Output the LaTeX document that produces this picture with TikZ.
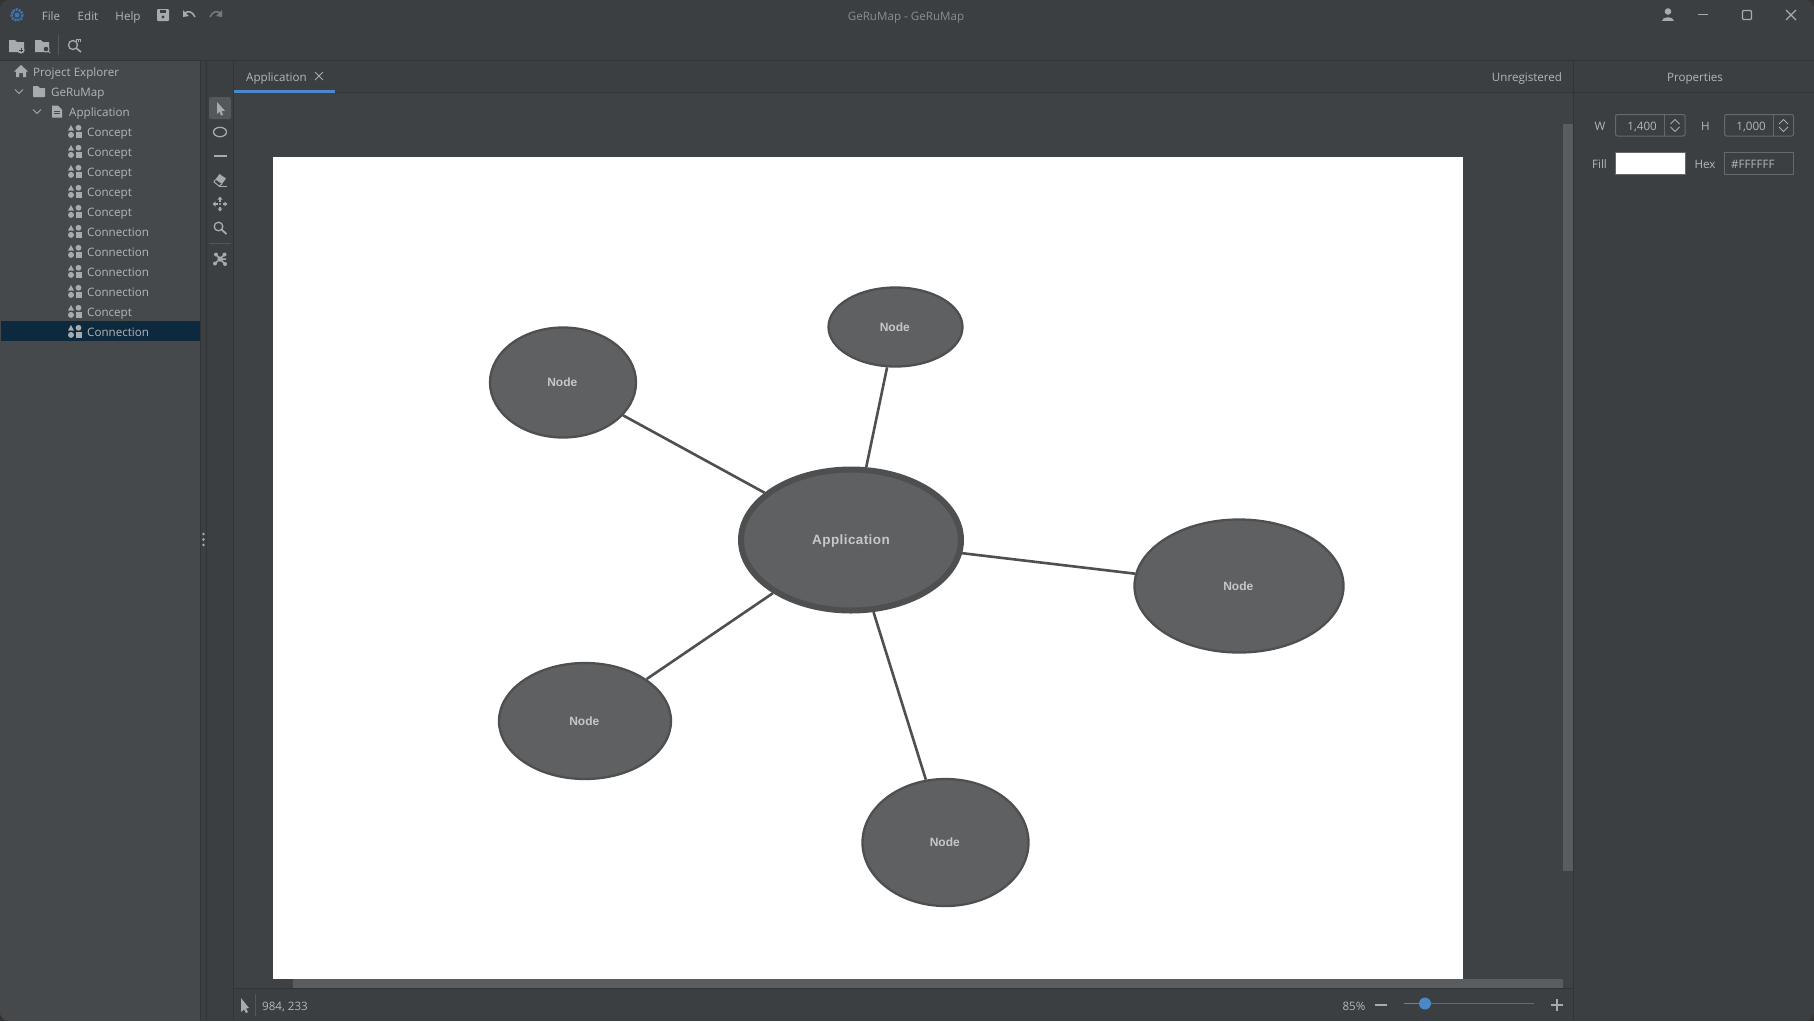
\documentclass[tikz,border=0pt]{standalone}
\usepackage{fontspec}
\setmainfont{Open Sans}
\newfontfamily\nodefont{Liberation Sans}
\usetikzlibrary{shapes.geometric}
\definecolor{winbg}{HTML}{3C3F41}
\definecolor{panelbg}{HTML}{46494B}
\definecolor{canvasbg}{HTML}{3F4244}
\definecolor{sepc}{HTML}{323537}
\definecolor{uitext}{HTML}{B4B6B8}
\definecolor{icon}{HTML}{A8ABAD}
\definecolor{sel}{HTML}{0D293E}
\definecolor{blue}{HTML}{4A88C7}
\definecolor{scrollc}{HTML}{595D60}
\definecolor{nodefill}{HTML}{5F6062}
\definecolor{nodeline}{HTML}{4E4F50}
\definecolor{fieldc}{HTML}{66696B}
\definecolor{sepb}{HTML}{54575A}
\tikzset{
 x=1pt,y=-1pt,
 ui/.style={font=\fontsize{11.6}{14}\selectfont,text=uitext,inner sep=0pt,yshift=-1.7pt,text height=8.6pt,text depth=2.8pt},
 uil/.style={ui,anchor=west},
 sepline/.style={draw=sepc,line width=1pt},
 icol/.style={draw=icon,line width=1.3pt,fill=none},
 cnode/.style={ellipse,draw=nodeline,fill=nodefill,line width=2.3pt,inner sep=0pt,text=black!22,
   font=\nodefont\bfseries\fontsize{12}{14}\selectfont},
 conn/.style={draw=nodeline,line width=2.6pt},
 fieldbox/.style={draw=fieldc,line width=1pt,rounded corners=2pt,fill=none},
}
\newcommand{\nlabel}{\hspace*{-1.5pt}\raisebox{-4.2pt}[0pt][0pt]{Node}}
\begin{document}
\begin{tikzpicture}
\useasboundingbox (0,0) rectangle (1814,1021);
\fill[black!80] (0,0) rectangle (1814,1021);
\begin{scope}
\clip[rounded corners=9pt] (0,0) rectangle (1814,1021);
\fill[winbg] (0,0) rectangle (1814,1021);
% panels
\fill[panelbg] (0,60) rectangle (200,1021);
\fill[canvasbg] (234,93) rectangle (1573,988);
\fill[sel] (1,321) rectangle (200,341);
% separators
\draw[sepline] (0,60.5) -- (1814,60.5);
\draw[sepline] (200.5,60) -- (200.5,1021);
\draw[sepline] (206.5,60) -- (206.5,1021);
\draw[sepline] (233.5,60) -- (233.5,1021);
\draw[sepline] (234,92.5) -- (1814,92.5);
\draw[sepline] (1573.5,60) -- (1573.5,1021);
\draw[sepline] (234,988.5) -- (1573,988.5);
% tab
\fill[blue] (234,90) rectangle (335,93);
% scrollbars
\fill[scrollc] (293,979) rectangle (1563,988);
\fill[scrollc] (1563,124) rectangle (1573,871);
% white page
\fill[white] (273,157) rectangle (1463,979);
% handle dots
\foreach \yy in {534,539.5,545}{\fill[icon] (203.5,\yy) circle (1.4);}
\end{scope}
% menu
\node[ui] (mfile) at (51,16) {File};
\node[ui] (medit) at (88,16) {Edit};
\node[ui] (mhelp) at (128,16) {Help};
\node[ui,text=black!45] (title) at (906,15.5) {GeRuMap - GeRuMap};
% logo
\draw[blue!85!black,line width=2.6pt,dash pattern=on 2pt off 1pt] (17,15) circle (5.5);
\fill[blue!85!black] (17,15) circle (2.5);
% save undo redo
\fill[icon,rounded corners=1pt] (157,9) rectangle (169,21);
\fill[winbg] (160,9.5) rectangle (166,13);
\fill[winbg] (163,17) circle (1.6);
\draw[icol,line width=1.5pt] (184,14) .. controls (188,10) and (192,11) .. (195,17);
\fill[icon] (183,10) -- (183,17) -- (189,16) -- cycle;
\draw[icol,line width=1.5pt,draw=icon!55!winbg] (221,14) .. controls (217,10) and (213,11) .. (210,17);
\fill[icon!55!winbg] (222,10) -- (222,17) -- (216,16) -- cycle;
% toolbar icons
\fill[icon] (9,40) -- (15,40) -- (17,42) -- (24,42) -- (24,52) -- (9,52) -- cycle;
\fill[icon] (21,50) circle (3.6); \draw[winbg,line width=.9pt] (19,50) -- (23,50) (21,48) -- (21,52);
\fill[icon] (35,40) -- (41,40) -- (43,42) -- (49,42) -- (49,52) -- (35,52) -- cycle;
\draw[icol,fill=winbg,line width=1pt] (46,49) circle (3); \draw[icol,line width=1pt] (48,51) -- (50,53);
\draw[draw=sepb,line width=1pt] (58.5,35) -- (58.5,55);
\draw[icol] (73,45) circle (4.5); \draw[icol,line width=1.6pt] (76,48) -- (81,52);
\draw[icol,line width=1pt] (76,39.5) -- (80.5,39.5) (76,39.5) -- (76,42) (80.5,39.5) -- (80.5,42) (78.2,39.5) -- (78.2,42);
% window buttons
\fill[icon] (1668,11.5) circle (3.3);
\fill[icon] (1662,21) .. controls (1662,15.5) and (1674,15.5) .. (1674,21) -- cycle;
\draw[icol] (1698,14.5) -- (1708,14.5);
\draw[icol,rounded corners=1pt] (1742.5,10.5) rectangle (1751.5,19.5);
\draw[icol] (1786,10) -- (1796,20) (1796,10) -- (1786,20);
% tree
\node[uil] (t0) at (33,72) {Project Explorer};
\fill[icon] (21,65) -- (28,71.5) -- (26,71.5) -- (26,77) -- (23,77) -- (23,73) -- (19,73) -- (19,77) -- (16,77) -- (16,71.5) -- (14,71.5) -- cycle;
\draw[icol,line width=1pt] (15,89.5) -- (19,93.5) -- (23,89.5);
\fill[icon,rounded corners=.6pt] (33,86) -- (38,86) -- (40,88) -- (45,88) -- (45,97) -- (33,97) -- cycle;
\node[uil] (t1) at (51,91.5) {GeRuMap};
\draw[icol,line width=1pt] (33,109.5) -- (37,113.5) -- (41,109.5);
\fill[icon] (52,105.5) -- (58,105.5) -- (62,109.5) -- (62,117.5) -- (52,117.5) -- cycle;
\draw[panelbg,line width=.8pt] (54,111) -- (60,111) (54,113.8) -- (60,113.8);
\node[uil] (t2) at (69,111.5) {Application};
\foreach \nn/\lab [count=\i from 0] in {a/Concept,b/Concept,c/Concept,d/Concept,e/Concept,f/Connection,g/Connection,h/Connection,k/Connection,m/Concept,n/Connection}{
  \pgfmathsetmacro{\yy}{131.5+20*\i}
  \node[uil] (row\nn) at (87,\yy) {\lab};
  \fill[icon] (68,\yy-1) -- (74,\yy-1) -- (71,\yy-6.5) -- cycle;
  \fill[icon] (78.5,\yy-3.7) circle (2.9);
  \fill[icon] (71,\yy+3.4) circle (3);
  \fill[icon] (76,\yy+.5) rectangle (82,\yy+6.5);
}
% tab text
\node[uil] (tab) at (246,77) {Application};
\draw[icon,line width=.8pt] (315,72) -- (323,80) (323,72) -- (315,80);
\node[ui] (unreg) at (1527,77) {Unregistered};
\node[ui] (props) at (1695,77) {Properties};
% tools
\fill[fieldc,opacity=.6,rounded corners=2pt] (209,97) rectangle (231,119);
\fill[icon] (217,102) -- (217,114) -- (219.5,111.5) -- (221,115.5) -- (223,114.7) -- (221.5,110.8) -- (225,110.8) -- cycle;
\draw[icol] (220,132) ellipse (6.5 and 4.7);
\draw[icol,line width=1.6pt] (213.5,156) -- (226.5,156);
\fill[icon] (219.5,174) -- (226,178.5) -- (222,184) -- (215.5,179.5) -- cycle;
\draw[icol,line width=1pt] (215.5,179.5) -- (214,182) -- (219,186) -- (222,184);
\draw[icol,line width=1pt] (219,186.5) -- (227,186.5);
\draw[icol,line width=1.3pt] (220,199) -- (220,201.5) (220,206.5) -- (220,209) (215,204) -- (217.5,204) (222.5,204) -- (225,204);
\fill[icon] (220,204) circle (1.2);
\fill[icon] (220,196.5) -- (217.5,199.5) -- (222.5,199.5) -- cycle (220,211.5) -- (217.5,208.5) -- (222.5,208.5) -- cycle (212.5,204) -- (215.5,201.5) -- (215.5,206.5) -- cycle (227.5,204) -- (224.5,201.5) -- (224.5,206.5) -- cycle;
\draw[icol] (218.5,226.5) circle (4.3); \draw[icol,line width=1.8pt] (221.5,229.5) -- (226.5,234);
\draw[draw=sepb,line width=1pt] (209,243.5) -- (231,243.5);
\draw[icol,line width=1.5pt] (220,259) -- (216,254.5) (220,259) -- (224.5,254.5) (220,259) -- (215,263.5) (220,259) -- (225,264) (220,259) -- (226,259);
\fill[icon] (220,259) circle (2.6) (216,254.5) circle (2) (224.5,254.5) circle (2) (215,263.5) circle (2) (225,264) circle (2);
% status bar
\fill[icon] (241,998) -- (241,1012) -- (244,1009.5) -- (246,1013) -- (248,1012) -- (246,1008.5) -- (249,1008) -- cycle;
\draw[draw=sepb,line width=1pt] (255.5,994) -- (255.5,1016);
\node[uil] (pos) at (262,1005.5) {984, 233};
\node[ui] (zoomv) at (1354,1005.5) {85\%};
\draw[icol,line width=1.5pt] (1375,1005) -- (1387,1005);
\draw[draw=fieldc,line width=1.6pt] (1404,1003.5) -- (1534,1003.5);
\draw[draw=blue,line width=1.6pt] (1404,1003.5) -- (1425,1003.5);
\fill[blue] (1425,1003.5) circle (6);
\draw[icol,line width=1.5pt] (1551,1005) -- (1563,1005) (1557,999) -- (1557,1011);
% properties
\node[ui] (lw) at (1600,125.5) {W};
\draw[fieldbox] (1615.5,114.5) rectangle (1685,136);
\draw[draw=fieldc,line width=1pt] (1664.5,114.5) -- (1664.5,136);
\node[ui,anchor=east] (vw) at (1657,125.5) {1,400};
\draw[icon,line width=.8pt] (1670.5,124) -- (1675,119.5) -- (1679.5,124) (1670.5,127) -- (1675,131.5) -- (1679.5,127);
\node[ui] (lh) at (1705.5,125.5) {H};
\draw[fieldbox] (1724.5,114.5) rectangle (1793.5,136);
\draw[draw=fieldc,line width=1pt] (1773.5,114.5) -- (1773.5,136);
\node[ui,anchor=east] (vh) at (1766,125.5) {1,000};
\draw[icon,line width=.8pt] (1779,124) -- (1783.5,119.5) -- (1788,124) (1779,127) -- (1783.5,131.5) -- (1788,127);
\node[ui] (lf) at (1599.5,163.5) {Fill};
\fill[white] (1615.5,152.5) rectangle (1685,174);
\draw[draw=fieldc,line width=1pt] (1615.5,152.5) rectangle (1685,174);
\node[ui] (lhex) at (1705,163.5) {Hex};
\draw[draw=fieldc,line width=1pt] (1724.5,152.5) rectangle (1793.5,174);
\node[uil] (vhex) at (1731,163.5) {\#FFFFFF};
% diagram
\node[cnode,minimum width=146pt,minimum height=110pt] (n1) at (563,382.5) {\nlabel};
\node[cnode,minimum width=134pt,minimum height=79pt] (n2) at (895.5,327) {\nlabel};
\node[cnode,minimum width=209pt,minimum height=133pt] (n3) at (1239,586) {\nlabel};
\node[cnode,minimum width=172pt,minimum height=116pt] (n4) at (585,721) {\nlabel};
\node[cnode,minimum width=166pt,minimum height=127pt] (n5) at (945.5,842.5) {\nlabel};
\node[cnode,minimum width=220pt,minimum height=141pt,line width=6pt,
      font=\nodefont\bfseries\fontsize{13.5}{16}\selectfont] (app) at (851,540) {\raisebox{-4.5pt}[0pt][0pt]{\addfontfeature{LetterSpace=3}Application}};
\draw[conn] (app) -- (n1);
\draw[conn] (app) -- (n2);
\draw[conn] (app) -- (n3);
\draw[conn] (app) -- (n4);
\draw[conn] (app) -- (n5);
\end{tikzpicture}
\end{document}
